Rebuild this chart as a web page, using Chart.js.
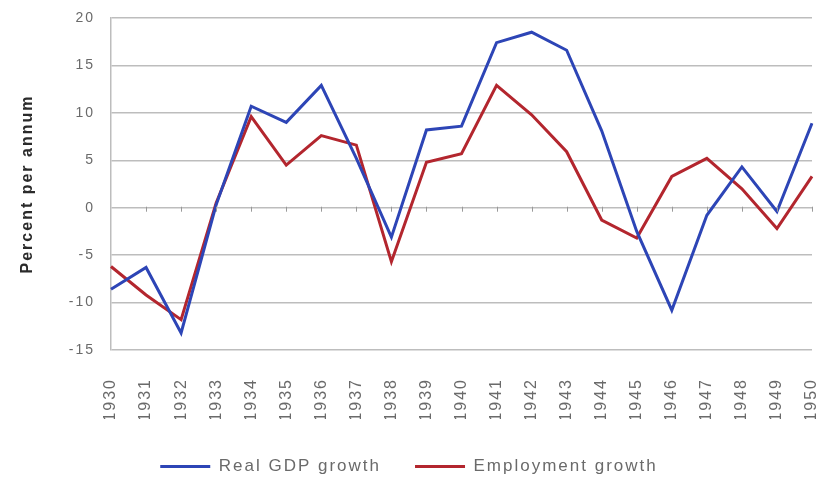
<!DOCTYPE html>
<html>
<head>
<meta charset="utf-8">
<script src="https://cdn.jsdelivr.net/npm/chart.js@4.4.1/dist/chart.umd.min.js"></script>
<style>
    html, body { margin: 0; padding: 0; background: #fff; }
    #wrap { width: 825px; height: 480px; }
</style>
</head>
<body>
<div id="wrap"><canvas id="growthChart" width="825" height="480"></canvas></div>
<script>
// Data
const years = ['1930', '1931', '1932', '1933', '1934', '1935', '1936', '1937', '1938', '1939', '1940',
               '1941', '1942', '1943', '1944', '1945', '1946', '1947', '1948', '1949', '1950'];
const gdpGrowth = [-8.6, -6.3, -13.2, 0.3, 10.7, 9.0, 12.9, 5.2, -3.1, 8.2, 8.6,
                   17.4, 18.5, 16.6, 8.1, -2.5, -10.8, -0.8, 4.3, -0.4, 8.9];
const employmentGrowth = [-6.2, -9.2, -11.8, 0.5, 9.6, 4.5, 7.6, 6.6, -5.7, 4.8, 5.7,
                          12.9, 9.8, 5.9, -1.3, -3.2, 3.3, 5.2, 2.0, -2.2, 3.3];
const yTicks = [20, 15, 10, 5, 0, -5, -10, -15];

const FONT = 'Liberation Sans';

// the original text is drawn wide, so space the letters a little
const wideText = {
    id: 'wideText',
    beforeInit(chart) { chart.ctx.letterSpacing = '2px'; },
    beforeDraw(chart) { chart.ctx.letterSpacing = '2px'; },
    // move the legend row to where the original has it
    afterLayout(chart) {
        const lg = chart.legend;
        if (!lg) return;
        const h = lg.height;
        lg.top = 424;
        lg.bottom = 424 + h;
        lg.left -= 29;
        lg.right -= 29;
    }
};

// small tick marks along the zero line, like the original axis crossing
const zeroTicks = {
    id: 'zeroTicks',
    afterDatasetsDraw(chart) {
        const ctx = chart.ctx;
        const x = chart.scales.x;
        const y0 = chart.scales.y.getPixelForValue(0);
        ctx.save();
        ctx.strokeStyle = '#9a9a9a';
        ctx.lineWidth = 1;
        for (let i = 1; i < years.length; i++) {
            const px = Math.round(x.getPixelForValue(i)) + 0.5;
            ctx.beginPath();
            ctx.moveTo(px, y0 - 1);
            ctx.lineTo(px, y0 + 4);
            ctx.stroke();
        }
        ctx.restore();
    }
};

document.addEventListener('DOMContentLoaded', function() {
    const ctx = document.getElementById('growthChart').getContext('2d');
    new Chart(ctx, {
        type: 'line',
        data: {
            labels: years,
            datasets: [{
                label: 'Real GDP growth',
                data: gdpGrowth,
                borderColor: '#2d45b6',
                backgroundColor: '#2d45b6',
                borderWidth: 3,
                pointRadius: 0,
                tension: 0
            }, {
                label: 'Employment growth',
                data: employmentGrowth,
                borderColor: '#b3262e',
                backgroundColor: '#b3262e',
                borderWidth: 3,
                pointRadius: 0,
                tension: 0
            }]
        },
        options: {
            responsive: false,
            animation: false,
            layout: {
                padding: { top: 18, right: 13, bottom: 0, left: 0 }
            },
            plugins: {
                tooltip: { enabled: false },
                legend: {
                    position: 'bottom',
                    labels: {
                        usePointStyle: true,
                        pointStyle: 'line',
                        pointStyleWidth: 50,
                        boxHeight: 3,
                        padding: 34,
                        color: '#6a6a6a',
                        font: { family: FONT, size: 17 }
                    }
                }
            },
            scales: {
                x: {
                    offset: false,
                    grid: { display: false },
                    border: { display: false },
                    ticks: {
                        minRotation: 90,
                        maxRotation: 90,
                        autoSkip: false,
                        padding: 20,
                        color: '#6a6a6a',
                        font: { family: FONT, size: 16 }
                    },
                    afterFit: function(scale) {
                        scale.height = 69;
                        scale.paddingLeft = 0;
                        scale.paddingRight = 0;
                    }
                },
                y: {
                    min: -15,
                    max: 20,
                    afterBuildTicks: function(scale) {
                        scale.ticks = yTicks.map(v => ({ value: v }));
                    },
                    grid: { color: '#bdbdbd', lineWidth: 1.5, drawTicks: false },
                    border: { display: true, color: '#bdbdbd', width: 1.5 },
                    ticks: {
                        padding: 16,
                        color: '#6a6a6a',
                        font: { family: FONT, size: 14 }
                    },
                    title: {
                        display: true,
                        text: 'Percent per annum',
                        color: '#2a2a2a',
                        padding: { top: 18, bottom: 0 },
                        font: { family: FONT, size: 16, weight: 'bold' }
                    },
                    afterFit: function(scale) {
                        scale.width = 111;
                        scale.paddingTop = 0;
                        scale.paddingBottom = 0;
                    }
                }
            }
        },
        plugins: [wideText, zeroTicks]
    });
});
</script>
</body>
</html>
